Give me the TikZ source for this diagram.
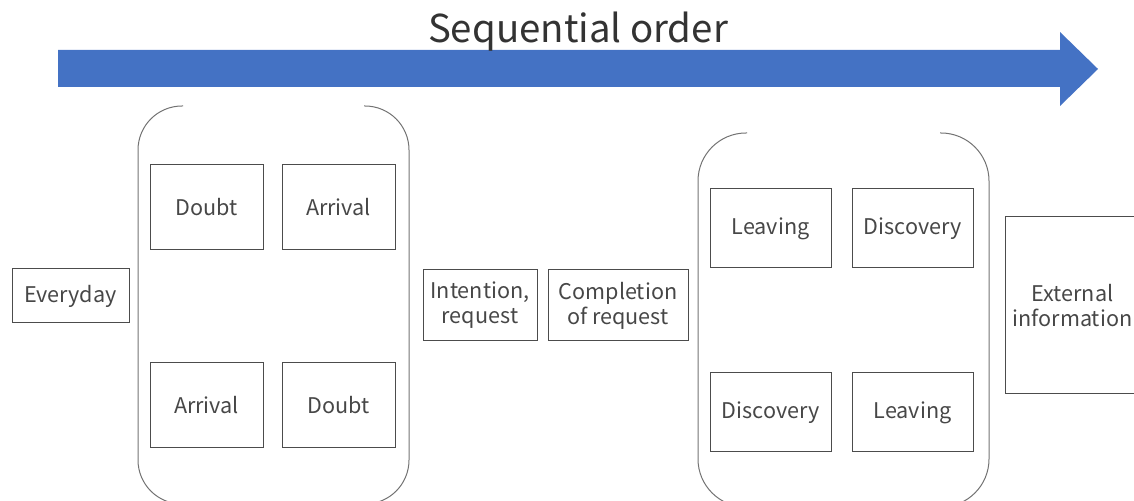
\documentclass[tikz,border=0pt]{standalone}
\usepackage{fontspec}
\setmainfont{Noto Sans CJK JP}
\usetikzlibrary{positioning}

\definecolor{seqblue}{HTML}{4472C4}

\tikzset{
  box/.style={draw=black!70, line width=0.5pt, text=black!72, inner sep=0pt, align=center,
    font=\fontsize{10.8}{12.5}\selectfont},
  cellL/.style={box, minimum width=56.5pt, minimum height=42.5pt},
  cellR/.style={box, minimum width=60.5pt, minimum height=39.5pt},
  bracket/.style={draw=black!55, line width=0.5pt},
}

\begin{document}
\begin{tikzpicture}[x=0.5pt, y=-0.5pt]

    \useasboundingbox (0,0) rectangle (1134,501);

    % sequence arrow and its title
    \fill[seqblue] (58,50) -- (1060,50) -- (1060,32) -- (1098,69) -- (1060,106) -- (1060,87) -- (58,87) -- cycle;
    \node[anchor=base, text=black!80, font=\fontsize{19.2}{22}\selectfont] (title) at (578,43) {Sequential order};

    \node[box, minimum width=58.5pt, minimum height=27pt] (everyday) at (70.5,296) {Everyday};

    % first group
    \node[cellL] (doubtA) at (206.5,207.5) {Doubt};
    \node[cellL, right=9pt of doubtA] (arrivalA) {Arrival};
    \node[cellL, below=56pt of doubtA] (arrivalB) {Arrival};
    \node[cellL, right=9pt of arrivalB] (doubtB) {Doubt};

    \draw[bracket, rounded corners=22pt] (183,106) -- (138,106) -- (138,504) -- (183,504);
    \draw[bracket, rounded corners=22pt] (364,106) -- (409,106) -- (409,504) -- (364,504);

    \node[box, minimum width=57pt, minimum height=35.5pt] (intention) at (480,305.5) {Intention,\\request};
    \node[box, minimum width=70pt, minimum height=35.5pt, right=5pt of intention] (completion) {Completion\\of request};

    % second group
    \node[cellR] (leavingA) at (770.5,228.5) {Leaving};
    \node[cellR, right=10pt of leavingA] (discoveryA) {Discovery};
    \node[cellR, below=52pt of leavingA] (discoveryB) {Discovery};
    \node[cellR, right=10pt of discoveryB] (leavingB) {Leaving};

    \draw[bracket, rounded corners=24pt] (747,133) -- (698,133) -- (698,507) -- (747,507);
    \draw[bracket, rounded corners=24pt] (940,133) -- (989,133) -- (989,507) -- (940,507);

    \node[box, minimum width=67.5pt, minimum height=88.5pt] (external) at (1072.5,305.5) {External\\information};

\end{tikzpicture}
\end{document}
